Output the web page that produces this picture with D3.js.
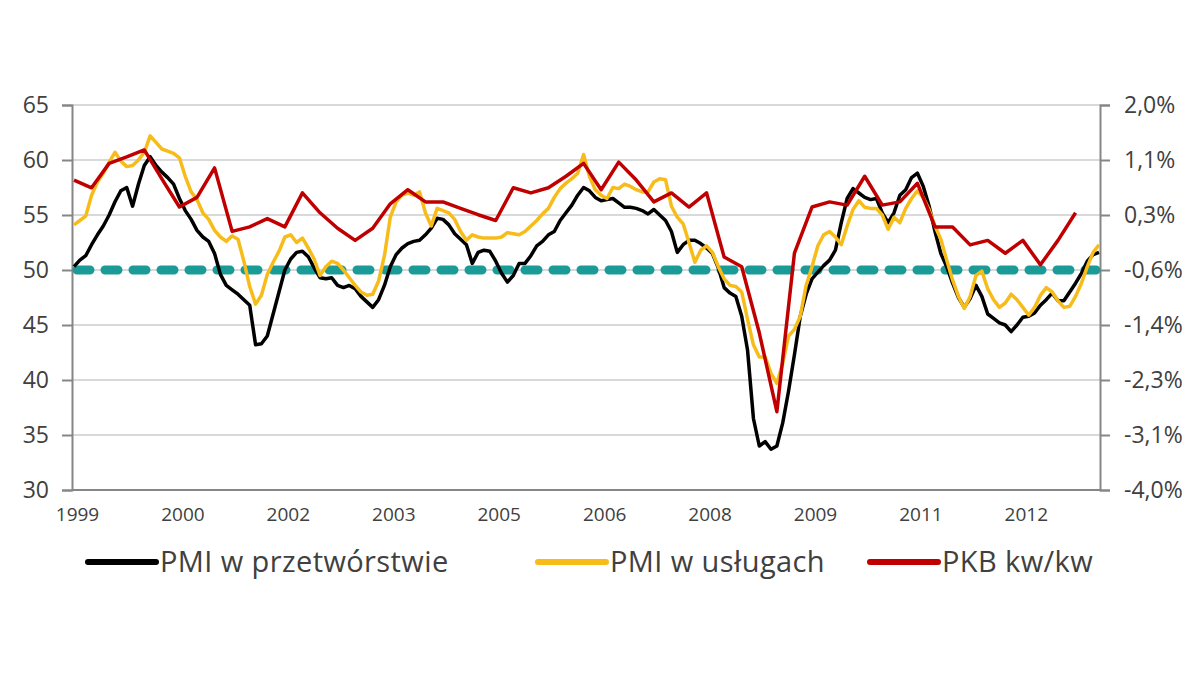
<!DOCTYPE html>
<html>
<head>
<meta charset="utf-8">
<script src="https://cdn.jsdelivr.net/npm/d3@7"></script>
<style>
  html, body { margin: 0; padding: 0; background: #ffffff; }
  svg { display: block; }
  text { font-family: "Open Sans", Lato, sans-serif; fill: #404040; }
</style>
</head>
<body>
<svg id="chart" width="1200" height="675"></svg>
<script>
// ---------------- DATA ----------------
// Monthly categories: Jan 1999 .. Aug 2013
const monthDates = d3.timeMonth.range(new Date(1999, 0, 1), new Date(2013, 8, 1));
const fmtMonth = d3.timeFormat("%Y-%m");
const months = monthDates.map(fmtMonth);

// PMI w przetwórstwie (left axis)
const pmiManufacturing = [
  50.3, 50.9, 51.3, 52.3, 53.2, 54.0, 55.0, 56.2, 57.2, 57.5, 55.8, 57.8,
  59.5, 60.3, 59.5, 58.9, 58.4, 57.8, 56.5, 55.4, 54.6, 53.6, 53.0, 52.6,
  51.5, 49.6, 48.6, 48.2, 47.8, 47.3, 46.8, 43.2, 43.3, 44.0, 46.0, 48.0,
  50.0, 51.0, 51.6, 51.7, 51.2, 50.2, 49.3, 49.2, 49.3, 48.6, 48.4, 48.6,
  48.3, 47.6, 47.1, 46.6, 47.3, 48.6, 50.3, 51.4, 52.0, 52.4, 52.6, 52.7,
  53.2, 53.8, 54.7, 54.6, 54.1, 53.3, 52.8, 52.3, 50.6, 51.6, 51.8, 51.7,
  50.8, 49.7, 48.9, 49.5, 50.6, 50.6, 51.3, 52.2, 52.6, 53.2, 53.5, 54.5,
  55.2, 55.9, 56.8, 57.5, 57.2, 56.6, 56.3, 56.4, 56.5, 56.1, 55.7, 55.7,
  55.6, 55.4, 55.1, 55.5, 55.0, 54.5, 53.5, 51.6, 52.3, 52.7, 52.7, 52.4,
  52.0, 51.5, 50.2, 48.4, 47.9, 47.6, 45.8, 42.7, 36.5, 34.0, 34.4, 33.7,
  34.0, 36.1, 39.0, 42.3, 45.8, 47.8, 49.2, 49.8, 50.4, 50.9, 51.8, 54.3,
  56.5, 57.4, 57.0, 56.6, 56.4, 56.5, 55.2, 54.3, 55.2, 56.8, 57.3, 58.4,
  58.8, 57.6, 55.8, 53.5, 51.5, 50.3, 48.8, 47.5, 46.6, 47.4, 48.6, 47.6,
  46.0, 45.6, 45.2, 45.0, 44.4, 45.0, 45.7, 45.8, 46.1, 46.8, 47.3, 47.9,
  47.2, 47.2, 48.0, 48.8, 49.7, 50.8, 51.4, 51.6
];

// PMI w usługach (left axis)
const pmiServices = [
  54.1, 54.5, 54.9, 56.8, 58.0, 58.8, 59.8, 60.7, 59.9, 59.4, 59.5, 60.0,
  60.7, 62.2, 61.6, 61.0, 60.8, 60.6, 60.2, 58.5, 57.1, 56.4, 55.2, 54.6,
  53.6, 53.0, 52.6, 53.1, 52.8, 50.8, 48.5, 46.9, 47.7, 49.6, 50.7, 51.7,
  53.0, 53.2, 52.5, 52.9, 52.0, 51.0, 49.5, 50.3, 50.8, 50.6, 50.0, 49.3,
  48.6, 48.0, 47.7, 47.8, 49.0, 51.3, 54.8, 56.2, 56.8, 57.0, 56.8, 57.1,
  55.2, 54.0, 55.6, 55.4, 55.2, 54.6, 53.5, 52.7, 53.2, 53.0, 52.9, 52.9,
  52.9, 53.0, 53.4, 53.3, 53.2, 53.5, 54.0, 54.5, 55.1, 55.6, 56.6, 57.4,
  57.9, 58.3, 58.8, 60.5, 58.5, 57.3, 56.8, 56.5, 57.5, 57.4, 57.8, 57.6,
  57.3, 57.1, 57.1, 58.0, 58.3, 58.2, 55.8, 54.8, 54.2, 52.5, 50.7, 51.8,
  52.2, 51.6, 50.3, 49.2, 48.6, 48.5, 48.0, 45.5, 43.2, 42.1, 42.1, 40.6,
  39.7, 41.5, 44.0, 44.6, 45.8, 48.6, 50.3, 52.2, 53.2, 53.5, 53.0, 52.3,
  54.0, 55.5, 56.3, 55.7, 55.6, 55.6, 55.0, 53.7, 54.8, 54.3, 55.6, 56.5,
  57.2, 56.6, 55.5, 54.0, 52.8, 50.9, 49.1, 47.6, 46.5, 47.6, 49.5, 49.9,
  48.3, 47.3, 46.6, 47.0, 47.8, 47.3, 46.6, 45.9, 46.6, 47.7, 48.4, 48.0,
  47.2, 46.6, 46.7, 47.6, 48.8, 50.3, 51.6, 52.3
];

// PKB kw/kw, % (right axis), quarterly Q1 1999 .. Q2 2013
const quarters = months.filter((d, i) => i % 3 === 0).slice(0, 58);
const gdpQoQ = [
  0.83, 0.71, 1.09, 1.19, 1.30, 0.85, 0.41, 0.56, 1.02, 0.03,
  0.10, 0.23, 0.10, 0.63, 0.32, 0.08, -0.11, 0.08, 0.46, 0.68,
  0.49, 0.49, 0.39, 0.29, 0.20, 0.71, 0.63, 0.71, 0.89, 1.09,
  0.68, 1.11, 0.83, 0.49, 0.63, 0.41, 0.63, -0.37, -0.52, -1.55,
  -2.78, -0.31, 0.41, 0.49, 0.44, 0.89, 0.44, 0.49, 0.78, 0.10,
  0.10, -0.18, -0.11, -0.31, -0.11, -0.49, -0.11, 0.32
];

const leftTicks = [30, 35, 40, 45, 50, 55, 60, 65];
const xTickLabels = ["1999", "2000", "2002", "2003", "2005", "2006", "2008", "2009", "2011", "2012"];
const threshold = 50;
const seriesNames = ["PMI w przetwórstwie", "PMI w usługach", "PKB kw/kw"];
const seriesColors = ["#000000", "#f7bc1a", "#c00000"];

// ---------------- LAYOUT ----------------
const svg = d3.select("#chart");
const M = { left: 72, right: 1100, top: 105, bottom: 490 };

const x = d3.scalePoint().domain(months).range([M.left + 2, M.right - 1]);
const yL = d3.scaleLinear().domain([30, 65]).range([M.bottom, M.top]);
const yR = d3.scaleLinear().domain([-4, 2]).range([M.bottom, M.top]);
const rightTicks = d3.range(8).map(k => -4 + k * 6 / 7);
const fmtPct = v => d3.format(".1f")(v).replace(".", ",").replace("−", "-") + "%";

// gridlines
svg.append("g").selectAll("line")
  .data(leftTicks.filter(t => t !== 30))
  .join("line")
  .attr("x1", M.left).attr("x2", M.right)
  .attr("y1", d => yL(d)).attr("y2", d => yL(d))
  .attr("stroke", "#d9d9d9").attr("stroke-width", 2);

// axes
const axisColor = "#868686";
const gL = svg.append("g").attr("transform", `translate(${M.left},0)`)
  .call(d3.axisLeft(yL).tickValues(leftTicks).tickSize(10).tickPadding(13));
const gR = svg.append("g").attr("transform", `translate(${M.right},0)`)
  .call(d3.axisRight(yR).tickValues(rightTicks).tickSize(10).tickPadding(14).tickFormat(fmtPct));
const xTickIdx = xTickLabels.map((d, i) => months[i * 18]);
const gB = svg.append("g").attr("transform", `translate(0,${M.bottom})`)
  .call(d3.axisBottom(x).tickValues(xTickIdx).tickSize(0).tickPadding(18)
    .tickFormat((d, i) => xTickLabels[i]));

[gL, gR, gB].forEach(g => {
  g.select(".domain").attr("stroke", axisColor).attr("stroke-width", 2);
  g.selectAll(".tick line").attr("stroke", axisColor).attr("stroke-width", 2);
  g.selectAll(".tick text").attr("fill", "#333333").style("font-family", "'Open Sans', sans-serif");
});
gL.selectAll(".tick text").style("font-size", "23px");
gR.selectAll(".tick text").style("font-size", "23px");
gB.selectAll(".tick text").style("font-size", "19px").attr("dx", 3);
gB.select(".domain").attr("d", `M${M.left},0H${M.right}`);

// threshold dashed line at 50
svg.append("line")
  .attr("x1", M.left + 5).attr("x2", M.right - 4)
  .attr("y1", yL(threshold)).attr("y2", yL(threshold))
  .attr("stroke", "#1a9b97").attr("stroke-width", 9)
  .attr("stroke-dasharray", "13,15").attr("stroke-linecap", "round");

// series lines
const lineL = d3.line().x((d, i) => x(months[i])).y(d => yL(d));
const lineR = d3.line().x((d, i) => x(quarters[i])).y(d => yR(d));

svg.append("path").datum(pmiManufacturing).attr("d", lineL)
  .attr("fill", "none").attr("stroke", seriesColors[0]).attr("stroke-width", 3.5)
  .attr("stroke-linejoin", "round");
svg.append("path").datum(pmiServices).attr("d", lineL)
  .attr("fill", "none").attr("stroke", seriesColors[1]).attr("stroke-width", 3.5)
  .attr("stroke-linejoin", "round");
svg.append("path").datum(gdpQoQ).attr("d", lineR)
  .attr("fill", "none").attr("stroke", seriesColors[2]).attr("stroke-width", 3.5)
  .attr("stroke-linejoin", "round");

// legend
const legendX = [88, 538, 870];
const lg = svg.append("g");
seriesNames.forEach((name, i) => {
  lg.append("line")
    .attr("x1", legendX[i]).attr("x2", legendX[i] + 68)
    .attr("y1", 562).attr("y2", 562)
    .attr("stroke", seriesColors[i]).attr("stroke-width", 6).attr("stroke-linecap", "round");
  lg.append("text")
    .attr("x", legendX[i] + 72).attr("y", 572)
    .style("font-size", "29px").style("letter-spacing", "0.4px").attr("fill", "#262626")
    .text(name);
});
</script>
</body>
</html>
